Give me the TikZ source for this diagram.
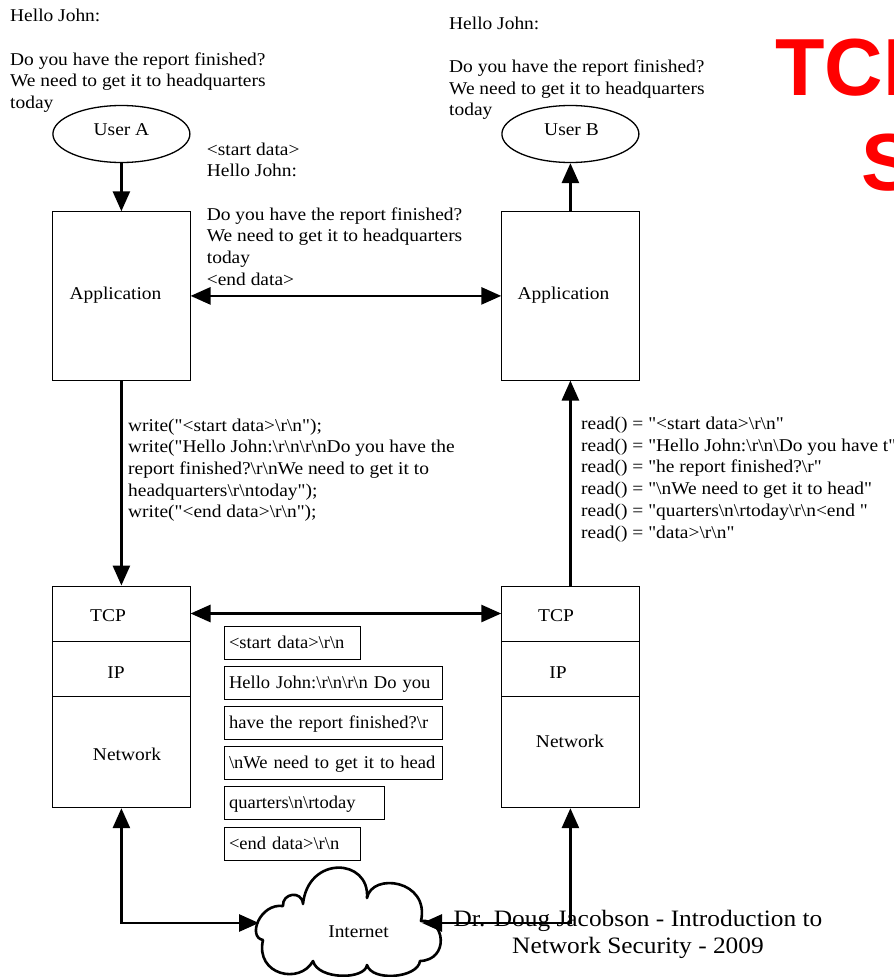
\documentclass[tikz,border=0pt]{standalone}
\usepackage{fontspec}
\setmainfont{Liberation Serif}[FakeStretch=1.08, Ligatures=TeXOff]
\newfontfamily\pktfont{Liberation Serif}[FakeStretch=1.03, Ligatures=TeXOff]
\newfontfamily\titlefont{Liberation Sans}
\usetikzlibrary{arrows.meta,shapes.geometric}
\newcommand{\bs}{\textbackslash}
\newcommand{\tl}[1]{\begin{tabular}[t]{@{}l@{}}#1\end{tabular}}
\newcommand{\tc}[1]{\begin{tabular}[t]{@{}c@{}}#1\end{tabular}}
\begin{document}
\begin{tikzpicture}[x=1pt,y=-1pt,
  txt/.style={inner sep=0pt, anchor=base west, font=\fontsize{18}{21.7}\selectfont},
  lbl/.style={inner sep=0pt, anchor=base, font=\fontsize{18}{21.7}\selectfont},
  conn/.style={line width=2.8pt, -{Triangle[length=20pt,width=17pt]}},
  dconn/.style={line width=2.8pt, {Triangle[length=20pt,width=17pt]}-{Triangle[length=20pt,width=17pt]}},
  box/.style={draw, line width=1pt, inner sep=0pt, minimum width=137.3pt},
  user/.style={draw, ellipse, line width=1.3pt, inner sep=0pt, minimum width=137pt, minimum height=57pt},
  pkt/.style={draw, line width=1pt, anchor=north west, inner xsep=4.5pt, inner ysep=0pt,
    minimum height=32.5pt, text width=#1, align=left, text height=14pt, text depth=2pt,
    font=\pktfont\fontsize{18}{21.7}\selectfont},
  cloudline/.style={draw, line width=2.6pt, line join=round}
]
\useasboundingbox (0,0) rectangle (894,977);
\clip (0,0) rectangle (894,977);

% title
\node[inner sep=0pt, anchor=base west, text=red, font=\titlefont\bfseries\fontsize{81}{97}\selectfont] (title1) at (775,95) {TCP};
\node[inner sep=0pt, anchor=base west, text=red, font=\titlefont\bfseries\fontsize{81}{97}\selectfont] (title2) at (861,190) {S};

% top texts
\node[txt] (topA) at (10,21.7) {\tl{Hello John:\\ \\ Do you have the report finished?\\ We need to get it to headquarters\\ today}};
\node[txt] (topB) at (449,29) {\tl{Hello John:\\ \\ Do you have the report finished?\\ We need to get it to headquarters\\ today}};

% users
\node[user] (userA) at (121.4,134) {};
\node[lbl] (userAl) at (121.5,135) {User A};
\node[user] (userB) at (570.4,134) {};
\node[lbl] (userBl) at (571.5,135) {User B};

% applications
\node[box, minimum height=168.3pt] (appA) at (121.4,295.9) {};
\node[lbl] (appAl) at (115.5,299) {Application};
\node[box, minimum height=168.3pt] (appB) at (570.4,295.9) {};
\node[lbl] (appBl) at (563.5,299) {Application};

% message text
\node[txt] (msg) at (206.7,155) {\tl{<start data>\\ Hello John:\\ \\ Do you have the report finished?\\ We need to get it to headquarters\\ today\\ <end data>}};

% write / read
\node[txt] (wr) at (128,431) {\tl{write("<start data>\bs r\bs n");\\
write("Hello John:\bs r\bs n\bs r\bs nDo you have the\\
report finished?\bs r\bs nWe need to get it to\\
headquarters\bs r\bs ntoday");\\
write("<end data>\bs r\bs n");}};
\node[txt] (rd) at (581,429.5) {\tl{read() = "<start data>\bs r\bs n"\\
read() = "Hello John:\bs r\bs n\bs Do you have t"\\
read() = "he report finished?\bs r"\\
read() = "\bs nWe need to get it to head"\\
read() = "quarters\bs n\bs rtoday\bs r\bs n<end "\\
read() = "data>\bs r\bs n"}};

% stacks
\node[box, minimum height=55pt] (tcpA) at (121.4,613.5) {};
\node[box, minimum height=55.7pt] (ipA) at (121.4,668.85) {};
\node[box, minimum height=111pt] (netA) at (121.4,752.2) {};
\node[lbl] (tcpAl) at (108,621.7) {TCP};
\node[lbl] (ipAl) at (116,678) {IP};
\node[lbl] (netAl) at (127,760) {Network};

\node[box, minimum height=55pt] (tcpB) at (570.4,613.5) {};
\node[box, minimum height=55.7pt] (ipB) at (570.4,668.85) {};
\node[box, minimum height=111pt] (netB) at (570.4,752.2) {};
\node[lbl] (tcpBl) at (556,621.7) {TCP};
\node[lbl] (ipBl) at (558,678) {IP};
\node[lbl] (netBl) at (570,747.5) {Network};

% packets
\node[pkt=127pt] (p1) at (224,626) {\mbox{<start data>\bs r\bs n}};
\node[pkt=209pt] (p2) at (224,666) {\mbox{Hello John:\bs r\bs n\bs r\bs n Do you}};
\node[pkt=209pt] (p3) at (224,706) {\mbox{have the report finished?\bs r}};
\node[pkt=209pt] (p4) at (224,746) {\mbox{\bs nWe need to get it to head}};
\node[pkt=151pt] (p5) at (224,786) {\mbox{quarters\bs n\bs rtoday}};
\node[pkt=127pt] (p6) at (224,827) {\mbox{<end data>\bs r\bs n}};

% internet cloud
\path[cloudline] (263,940)
  .. controls (247,937) and (260,903) .. (283,906)
  .. controls (282,893) and (302,890) .. (303,904)
  .. controls (308,855) and (370,858) .. (367,898)
  .. controls (372,872) and (430,880) .. (421,921)
  .. controls (445,918) and (450,960) .. (420,961)
  .. controls (418,978) and (372,982) .. (367,965)
  .. controls (365,980) and (318,980) .. (313,961)
  .. controls (300,985) and (255,975) .. cycle;
\node[lbl, font=\fontsize{18}{21}\selectfont] (cloud) at (358.5,937) {Internet};
\coordinate (cloudW) at (259,923);
\coordinate (cloudE) at (422,923);

% connectors
\draw[conn] (userA.south) -- (appA.north);
\draw[conn] (appB.north) -- (userB.south);
\draw[dconn] (appA.east) -- (appB.west);
\draw[conn] (appA.south) -- (tcpA.north);
\draw[conn] (tcpB.north) -- (appB.south);
\draw[dconn] (tcpA.east) -- (tcpB.west);
\draw[dconn] (netA.south) |- (cloudW);
\draw[dconn] (netB.south) |- (cloudE);

% footer
\node[inner sep=0pt, anchor=base, font=\fontsize{23.5}{27.5}\selectfont] (footer) at (638,926) {\tc{Dr. Doug Jacobson - Introduction to\\ Network Security - 2009}};
\end{tikzpicture}
\end{document}
